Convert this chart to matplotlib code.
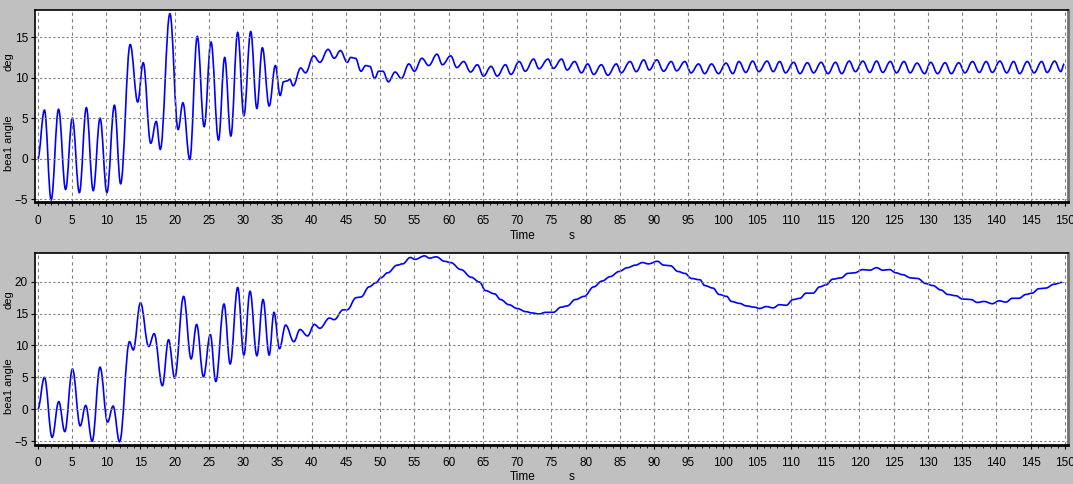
import numpy as np
import matplotlib
matplotlib.use("Agg")
import matplotlib.pyplot as plt
from matplotlib.path import Path
from matplotlib.patches import PathPatch
from matplotlib.ticker import MultipleLocator

# --- top panel: bea1 angle [deg] vs time [s] ---
t_top = [0, 0.98, 1.96, 3.04, 4.07, 5.05, 6.08, 7.1, 8.1, 9.1,
         10.1, 11.2, 12.1, 13.5, 14.6, 15.4, 16.5, 17.3, 17.9, 19.3,
         20.5, 21.2, 22.2, 23.3, 24.3, 25.3, 26.4, 27.3, 28.2, 29.2,
         30.1, 31.1, 32.0, 32.8, 33.8, 34.7, 35.4, 35.9, 36.4, 36.8,
         37.3, 38.4, 39.1, 40.3, 41.2, 42.4, 43.3, 44.2, 45.2, 45.7,
         46.4, 47.2, 47.9, 48.5, 49.2, 49.8, 50.4, 51.2, 52.2, 53.1,
         54.2, 55.0, 56.1, 57.1, 58.3, 59.1, 60.3, 61.2, 62.2, 63.2,
         64.2, 65.1, 66.2, 67.1, 68.3, 69.1, 70.3, 71.2, 72.4, 73.2,
         74.5, 75.3, 76.5, 77.3, 78.4, 79.4, 80.3, 81.2, 82.3, 83.25,
         84.5, 85.2, 86.5, 87.4, 88.5, 89.3, 90.4, 91.4, 92.5, 93.3,
         94.5, 95.4, 96.5, 97.4, 98.4, 99.4, 100.5, 101.5, 102.4, 103.4,
         104.4, 105.3, 106.5, 107.4, 108.35, 109.2, 110.4, 111.3, 112.4, 113.3,
         114.4, 115.4, 116.5, 117.4, 118.5, 119.4, 120.5, 121.5, 122.5, 123.4,
         124.5, 125.4, 126.5, 127.4, 128.4, 129.5, 130.4, 131.4, 132.5, 133.4,
         134.5, 135.4, 136.5, 137.5, 138.5, 139.4, 140.5, 141.5, 142.5, 143.4,
         144.5, 145.5, 146.6, 147.4, 148.5, 149.4, 149.9]
a_top = [0, 6.0, -5.1, 6.1, -3.8, 5.0, -4.2, 6.3, -3.95, 5.0,
         -4.2, 6.6, -3.1, 14.1, 7.0, 11.85, 1.9, 4.6, 1.15, 17.9,
         3.6, 6.9, -0.1, 15.1, 3.95, 14.4, 2.3, 12.5, 2.8, 15.6,
         5.3, 15.7, 6.2, 13.7, 6.5, 11.5, 7.8, 9.5, 9.6, 9.8,
         9.0, 11.2, 10.6, 12.7, 11.9, 13.5, 12.4, 13.35, 11.9, 12.5,
         12.4, 10.8, 11.5, 11.4, 9.9, 10.8, 10.8, 9.5, 10.7, 9.9,
         11.7, 10.8, 12.4, 11.5, 12.9, 11.6, 12.7, 11.25, 12.0, 10.7,
         11.6, 10.2, 11.4, 10.2, 11.6, 10.4, 12.0, 10.8, 12.3, 11.1,
         12.3, 11.15, 12.3, 10.95, 12.0, 10.6, 11.7, 10.4, 11.6, 10.3,
         11.7, 10.6, 12.0, 10.75, 12.2, 10.95, 12.2, 10.8, 12.0, 10.85,
         12.0, 10.6, 11.7, 10.5, 11.7, 10.5, 11.8, 10.5, 12.0, 10.65,
         12.05, 10.75, 12.05, 10.75, 12.0, 10.6, 11.9, 10.5, 11.85, 10.6,
         11.9, 10.5, 11.9, 10.5, 12.05, 10.75, 12.05, 10.65, 12.05, 10.65,
         12.0, 10.6, 12.0, 10.6, 11.8, 10.5, 11.9, 10.5, 11.85, 10.5,
         11.85, 10.6, 12.0, 10.65, 12.0, 10.65, 12.05, 10.6, 12.0, 10.5,
         12.0, 10.6, 12.0, 10.65, 12.05, 10.75, 11.7]

# --- bottom panel ---
t_bot = [0, 0.98, 2.1, 3.07, 3.95, 5.07, 6.2, 7.0, 7.95, 9.1,
         10.2, 11.0, 11.95, 13.4, 13.95, 15.0, 16.2, 17.0, 18.2, 19.1,
         20.0, 21.3, 22.4, 23.2, 24.2, 25.2, 26.0, 27.2, 28.1, 29.2,
         30.1, 31.0, 32.0, 32.9, 33.8, 34.5, 35.3, 36.2, 37.4, 38.3,
         39.4, 40.4, 41.2, 42.6, 43.3, 44.6, 45.2, 46.5, 47.2, 48.4,
         49.4, 50.1, 51.1, 52.5, 53.3, 54.4, 55.1, 56.5, 57.2, 58.2,
         59.4, 60.3, 61.8, 63.3, 64.5, 65.4, 66.7, 67.6, 68.8, 70.0,
         71.3, 72.2, 73.2, 74.2, 75.3, 76.4, 77.3, 78.5, 79.8, 81.2,
         82.4, 83.6, 84.9, 86.1, 87.3, 88.3, 89.2, 90.5, 91.4, 92.4,
         93.5, 94.5, 95.5, 96.7, 97.4, 98.6, 99.5, 100.6, 101.3, 102.5,
         103.5, 104.7, 105.4, 106.4, 107.4, 108.3, 109.3, 110.3, 111.3, 112.2,
         113.2, 114.2, 115.1, 116.1, 117.3, 118.3, 119.3, 120.5, 121.5, 122.5,
         123.4, 124.4, 125.3, 126.3, 127.5, 128.5, 129.7, 130.7, 131.9, 132.9,
         134.1, 135.0, 136.3, 137.2, 138.2, 139.4, 140.4, 141.4, 142.3, 143.3,
         144.3, 145.2, 146.2, 147.2, 148.4, 149.6]
a_bot = [0, 5.0, -4.4, 1.2, -3.5, 6.3, -2.6, 0.6, -5.0, 6.6,
         -2.0, 0.5, -5.1, 10.6, 9.3, 16.7, 9.85, 11.85, 3.7, 10.9,
         4.9, 17.7, 7.9, 13.3, 5.1, 11.7, 4.35, 16.5, 7.1, 19.1,
         8.5, 18.5, 8.4, 17.2, 8.5, 15.2, 9.5, 13.2, 10.6, 12.5,
         11.5, 13.3, 12.7, 14.3, 14.05, 15.6, 15.6, 17.5, 17.6, 19.2,
         19.85, 20.6, 21.4, 22.6, 22.8, 23.8, 23.5, 24.05, 23.7, 23.9,
         23.2, 23.0, 21.9, 20.7, 19.95, 18.6, 18.1, 17.2, 16.4, 15.8,
         15.3, 15.1, 14.95, 15.2, 15.2, 16.0, 16.2, 17.2, 17.7, 19.2,
         20.1, 20.8, 21.6, 22.2, 22.6, 23.0, 22.8, 23.2, 22.6, 22.5,
         21.6, 21.3, 20.5, 20.3, 19.4, 19.0, 18.0, 17.7, 16.9, 16.6,
         16.2, 16.0, 15.8, 16.1, 15.9, 16.4, 16.3, 17.2, 17.4, 18.2,
         18.2, 19.2, 19.5, 20.4, 20.6, 21.3, 21.4, 21.9, 21.8, 22.2,
         21.8, 21.9, 21.4, 21.1, 20.6, 20.5, 19.7, 19.4, 18.7, 18.0,
         17.8, 17.3, 17.2, 16.75, 16.9, 16.55, 17.0, 16.8, 17.4, 17.4,
         18.0, 18.2, 18.9, 19.0, 19.6, 19.9]

yticks_top = [-5, 0, 5, 10, 15]
yticks_bot = [-5, 0, 5, 10, 15, 20]
xticks = list(range(0, 151, 5))

W, H = 1073, 484
fig = plt.figure(figsize=(W / 100, H / 100), dpi=100)
fig.patch.set_facecolor('#c0c0c0')
fam = ['Liberation Sans Narrow', 'Liberation Sans', 'DejaVu Sans']


def smooth_path(t, a, k=0.38):
    # cubic segments with flat tangents at every read point (peaks/troughs)
    verts = [(t[0], a[0])]
    codes = [Path.MOVETO]
    for i in range(1, len(t)):
        dt = t[i] - t[i - 1]
        verts += [(t[i - 1] + k * dt, a[i - 1]), (t[i] - k * dt, a[i]), (t[i], a[i])]
        codes += [Path.CURVE4] * 3
    return Path(verts, codes)


def panel(rect, t, a, yticks, ylim):
    ax = fig.add_axes(rect)
    ax.set_facecolor('white')
    ax.add_patch(PathPatch(smooth_path(t, a), fill=False, edgecolor='#0000ff', lw=1.2))
    ax.set_xlim(-0.4, 150.45)
    ax.set_ylim(*ylim)
    ax.set_xticks(xticks)
    ax.set_yticks(yticks)
    ax.xaxis.set_minor_locator(MultipleLocator(1))
    ax.tick_params(axis='both', which='major', length=3, width=0.8,
                   labelsize=8.5, colors='black')
    ax.tick_params(axis='x', which='major', pad=6)
    ax.tick_params(axis='y', which='major', pad=2)
    ax.tick_params(axis='x', which='minor', length=2, width=0.6)
    for lab in ax.get_xticklabels() + ax.get_yticklabels():
        lab.set_family(fam)
    ax.xaxis.grid(True, color='#808080', ls=(0, (3, 3)), lw=0.8)
    ax.yaxis.grid(True, color='#808080', ls=(0, (2, 2)), lw=0.8)
    for side in ['left', 'top']:
        ax.spines[side].set_linewidth(1.2)
    ax.spines['bottom'].set_linewidth(2.0)
    ax.spines['right'].set_linewidth(2.0)
    ax.spines['right'].set_color('#707070')
    return ax


panel([35 / W, 1 - 202 / H, 1033 / W, 192 / H], t_top, a_top, yticks_top, (-5.35, 18.36))
panel([35 / W, 1 - 445 / H, 1033 / W, 192 / H], t_bot, a_bot, yticks_bot, (-5.6, 24.5))

for yd, ya, yt in [(62, 143, 236), (300, 386, 477)]:
    fig.text(9 / W, 1 - yd / H, 'deg', rotation=90, ha='center', va='center',
             fontsize=8, family=fam)
    fig.text(9 / W, 1 - ya / H, 'bea1 angle', rotation=90, ha='center', va='center',
             fontsize=8, family=fam)
    fig.text(523 / W, 1 - yt / H, 'Time', ha='center', va='center', fontsize=8.5, family=fam)
    fig.text(572 / W, 1 - yt / H, 's', ha='center', va='center', fontsize=8.5, family=fam)

fig.savefig('out.png', dpi=100, facecolor=fig.get_facecolor())
